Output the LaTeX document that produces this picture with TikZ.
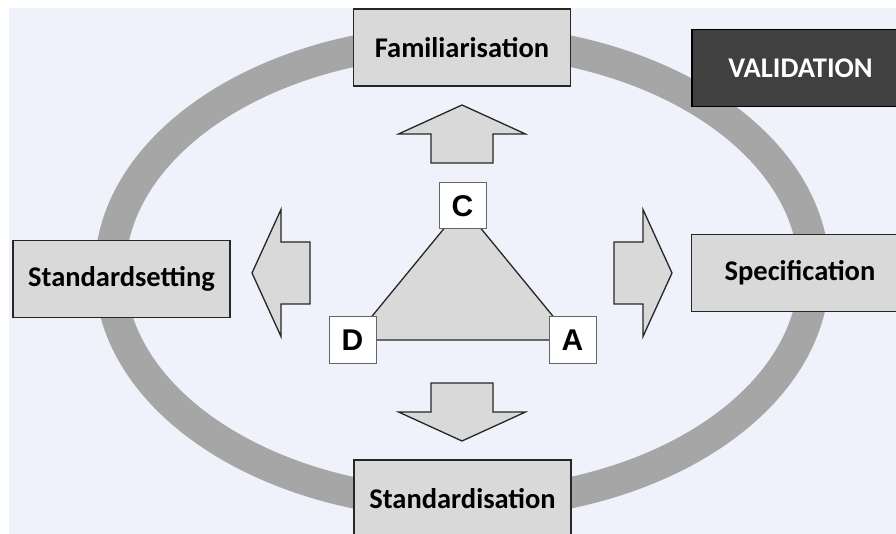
\documentclass[tikz,border=0pt]{standalone}
\usepackage{xcolor}
\usepackage{fontspec}
\usepackage{tikz}
\usetikzlibrary{backgrounds}
\setmainfont{Carlito}
\newfontfamily\letterfont{Liberation Sans}

\definecolor{bgblue}{RGB}{239,242,250}
\definecolor{ringgray}{RGB}{166,166,166}
\definecolor{boxgray}{RGB}{217,217,217}
\definecolor{valgray}{RGB}{64,64,64}

\begin{document}
\begin{tikzpicture}[x=1pt, y=-1pt,
		stagebox/.style={draw=black!85, line width=1.2pt, fill=boxgray, minimum width=217pt, minimum height=77pt, inner sep=0pt, font=\fontsize{28.5}{32}\selectfont\bfseries},
		letterbox/.style={draw=black!60, line width=1pt, fill=white, minimum width=47pt, minimum height=46pt, inner sep=0pt, font=\letterfont\fontsize{30}{32}\selectfont\bfseries},
		blockarrow/.pic={\filldraw[draw=black!85, line width=1.3pt, fill=boxgray, line join=miter] (0,-31) -- (29,-31) -- (29,-63.5) -- (58,0) -- (29,63.5) -- (29,31) -- (0,31) -- cycle;}]
	\useasboundingbox (0,0) rectangle (896,534);

	% the four stages round the ring
	\node[stagebox] (fam) at (462,47.5) {Familiarisation};
	\node[stagebox] (spec) at (800,273) {Specification};
	\node[stagebox] (stdis) at (462.5,498.5) {Standardisation};
	\node[stagebox] (stdset) at (121.5,279) {Standardsetting};
	\node[stagebox, fill=valgray, draw=black, text=white] (val) at (800.5,68) {VALIDATION};

	% corners of the triangle
	\node[letterbox] (c) at (462.5,206) {C};
	\node[letterbox] (d) at (352.5,340) {D};
	\node[letterbox] (a) at (572.5,340) {A};

	% block arrows pointing out
	\pic[rotate=90] at (462,163) {blockarrow};
	\pic at (614,273) {blockarrow};
	\pic[rotate=270] at (462,383) {blockarrow};
	\pic[rotate=180] at (310,273) {blockarrow};

	\begin{pgfonlayer}{background}
		\fill[bgblue] (9,8) rectangle (896,534);
		\draw[ringgray, line width=31pt] (462,272) ellipse [x radius=352pt, y radius=232pt];
		\filldraw[fill=boxgray, draw=black!85, line width=1.3pt] (c.center) -- (d.center) -- (a.center) -- cycle;
	\end{pgfonlayer}
\end{tikzpicture}
\end{document}
